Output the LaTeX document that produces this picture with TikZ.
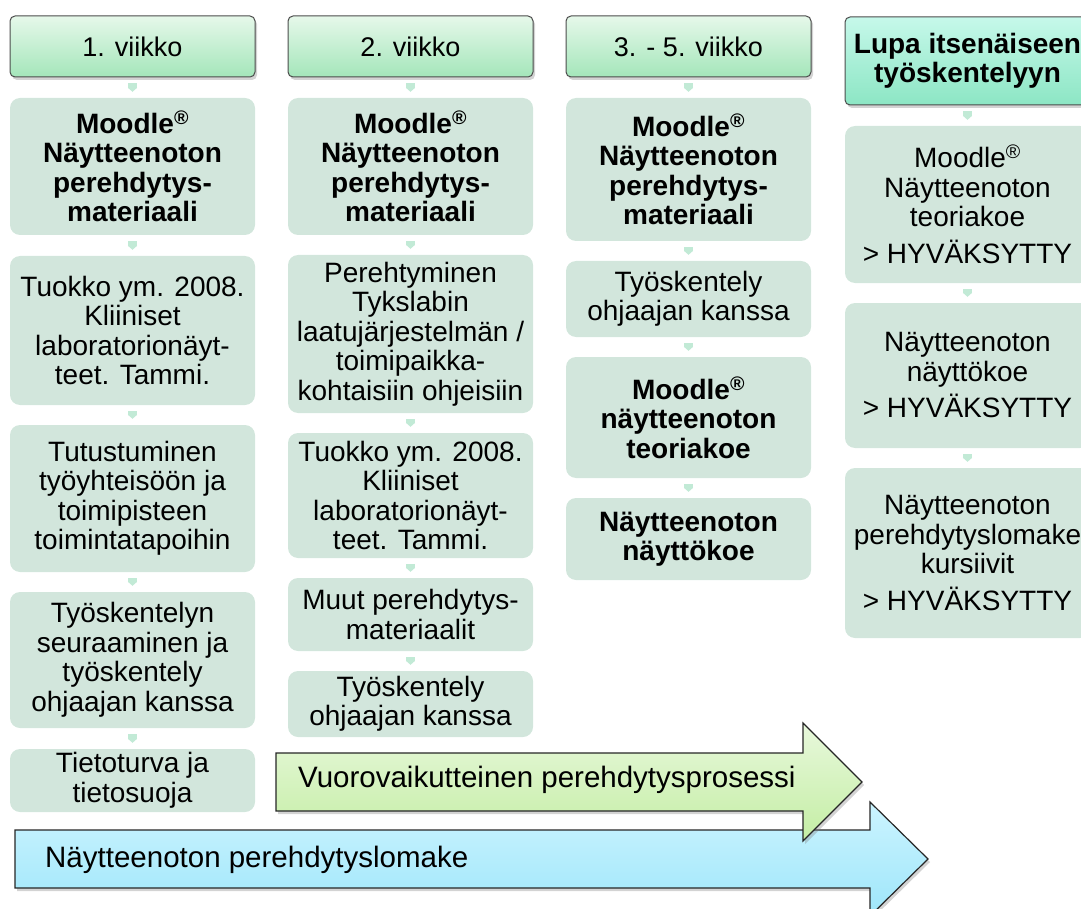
\documentclass[tikz,border=0pt]{standalone}
\usepackage{fontspec}
\setmainfont{Liberation Sans}
\usetikzlibrary{arrows.meta,shadows}
\definecolor{boxfill}{HTML}{D2E6DC}
\definecolor{hdtop}{HTML}{E6F8EA}
\definecolor{hdbot}{HTML}{A4E6BA}
\definecolor{lutop}{HTML}{C6F8EA}
\definecolor{lubot}{HTML}{8CE6C4}
\definecolor{linkmint}{HTML}{C2EAD6}
\definecolor{grtop}{HTML}{E8F8DC}
\definecolor{grbot}{HTML}{C4EEA4}
\definecolor{bltop}{HTML}{CCF4FF}
\definecolor{blbot}{HTML}{9EE6FA}
\newcommand\weekfont{\fontsize{27}{29}\selectfont}
\newcommand\boxfont{\fontsize{28}{29.5}\selectfont}
\newcommand\flowfont{\fontsize{29.5}{31}\selectfont}
\tikzset{
  week/.style={draw=black!70, line width=1pt, rounded corners=5pt,
    top color=hdtop, bottom color=hdbot,
    drop shadow={shadow xshift=2pt, shadow yshift=-3pt, opacity=.35},
    minimum width=245, align=center, inner sep=0pt, font=\weekfont},
  item/.style={fill=boxfill, rounded corners=10pt, minimum width=245,
    align=center, inner xsep=0pt, font=\boxfont},
  link/.style={draw=linkmint, line width=9pt,
    -{Triangle[length=4pt,width=9pt]}, shorten <=6pt, shorten >=6pt},
  flow/.style={draw=black!85, line width=1.2pt,
    drop shadow={shadow xshift=2pt, shadow yshift=-3pt, opacity=.35}}
}

\begin{document}
\begin{tikzpicture}[x=1pt, y=-1pt]
    \useasboundingbox (0,0) rectangle (1081,909);

    \node[week, minimum height=61] (h1) at (132.5,46.5) {1. viikko};
    \node[item, minimum height=137] (m1) at (132.5,166.5)
      {\bfseries Moodle\textsuperscript{®}\\\bfseries Näytteenoton\\\bfseries perehdytys-\\\bfseries materiaali};
    \node[item, minimum height=149] (t1) at (132.5,330.5)
      {Tuokko ym. 2008.\\Kliiniset\\laboratorionäyt-\\teet. Tammi.};
    \node[item, minimum height=147] (u1) at (132.5,498.5)
      {Tutustuminen\\työyhteisöön ja\\toimipisteen\\toimintatapoihin};
    \node[item, minimum height=136] (s1) at (132.5,660)
      {Työskentelyn\\seuraaminen ja\\työskentely\\ohjaajan kanssa};
    \node[item, minimum height=63] (tt1) at (132.5,780.5)
      {Tietoturva ja\\tietosuoja};

    \node[week, minimum height=61] (h2) at (410.5,46.5) {2. viikko};
    \node[item, minimum height=137] (m2) at (410.5,166.5)
      {\bfseries Moodle\textsuperscript{®}\\\bfseries Näytteenoton\\\bfseries perehdytys-\\\bfseries materiaali};
    \node[item, minimum height=158] (p2) at (410.5,334)
      {Perehtyminen\\Tykslabin\\laatujärjestelmän /\\toimipaikka-\\kohtaisiin ohjeisiin};
    \node[item, minimum height=125] (t2) at (410.5,495.5)
      {Tuokko ym. 2008.\\Kliiniset\\laboratorionäyt-\\teet. Tammi.};
    \node[item, minimum height=73] (mu2) at (410.5,614.5)
      {Muut perehdytys-\\materiaalit};
    \node[item, minimum height=66] (ty2) at (410.5,704)
      {Työskentely\\ohjaajan kanssa};

    \node[week, minimum height=61] (h3) at (688.5,46.5) {3. - 5. viikko};
    \node[item, minimum height=143] (m3) at (688.5,169.5)
      {\bfseries Moodle\textsuperscript{®}\\\bfseries Näytteenoton\\\bfseries perehdytys-\\\bfseries materiaali};
    \node[item, minimum height=76] (ty3) at (688.5,299)
      {Työskentely\\ohjaajan kanssa};
    \node[item, minimum height=121] (mt3) at (688.5,417.5)
      {\bfseries Moodle\textsuperscript{®}\\\bfseries näytteenoton\\\bfseries teoriakoe};
    \node[item, minimum height=82] (n3) at (688.5,539)
      {\bfseries Näytteenoton\\\bfseries näyttökoe};

    \node[week, minimum height=88, top color=lutop, bottom color=lubot, font=\boxfont] (h4) at (967.5,61)
      {\bfseries Lupa itsenäiseen\\\bfseries työskentelyyn};
    \node[item, minimum height=157] (a4) at (967.5,204.5)
      {Moodle\textsuperscript{®}\\Näytteenoton\\teoriakoe\\[7pt]> HYVÄKSYTTY};
    \node[item, minimum height=145] (b4) at (967.5,375.5)
      {Näytteenoton\\näyttökoe\\[7pt]> HYVÄKSYTTY};
    \node[item, minimum height=170] (c4) at (967.5,553)
      {Näytteenoton\\perehdytyslomake\\kursiivit\\[7pt]> HYVÄKSYTTY};

    \draw[link] (h1) -- (m1);
    \draw[link] (m1) -- (t1);
    \draw[link] (t1) -- (u1);
    \draw[link] (u1) -- (s1);
    \draw[link] (s1) -- (tt1);
    \draw[link] (h2) -- (m2);
    \draw[link] (m2) -- (p2);
    \draw[link] (p2) -- (t2);
    \draw[link] (t2) -- (mu2);
    \draw[link] (mu2) -- (ty2);
    \draw[link] (h3) -- (m3);
    \draw[link] (m3) -- (ty3);
    \draw[link] (ty3) -- (mt3);
    \draw[link] (mt3) -- (n3);
    \draw[link] (h4) -- (a4);
    \draw[link] (a4) -- (b4);
    \draw[link] (b4) -- (c4);

    \path[flow, top color=bltop, bottom color=blbot] (15,830) -- (870,830) -- (870,802)
      -- (928,859) -- (870,916) -- (870,888) -- (15,888) -- cycle;
    \node[anchor=base west, inner sep=0pt, font=\flowfont] (lomake) at (45,867)
      {Näytteenoton perehdytyslomake};
    \path[flow, top color=grtop, bottom color=grbot] (276,753) -- (803,753) -- (803,723)
      -- (862,782) -- (803,841) -- (803,811) -- (276,811) -- cycle;
    \node[anchor=base west, inner sep=0pt, font=\flowfont] (prosessi) at (298,787)
      {Vuorovaikutteinen perehdytysprosessi};
  \end{tikzpicture}
\end{document}
